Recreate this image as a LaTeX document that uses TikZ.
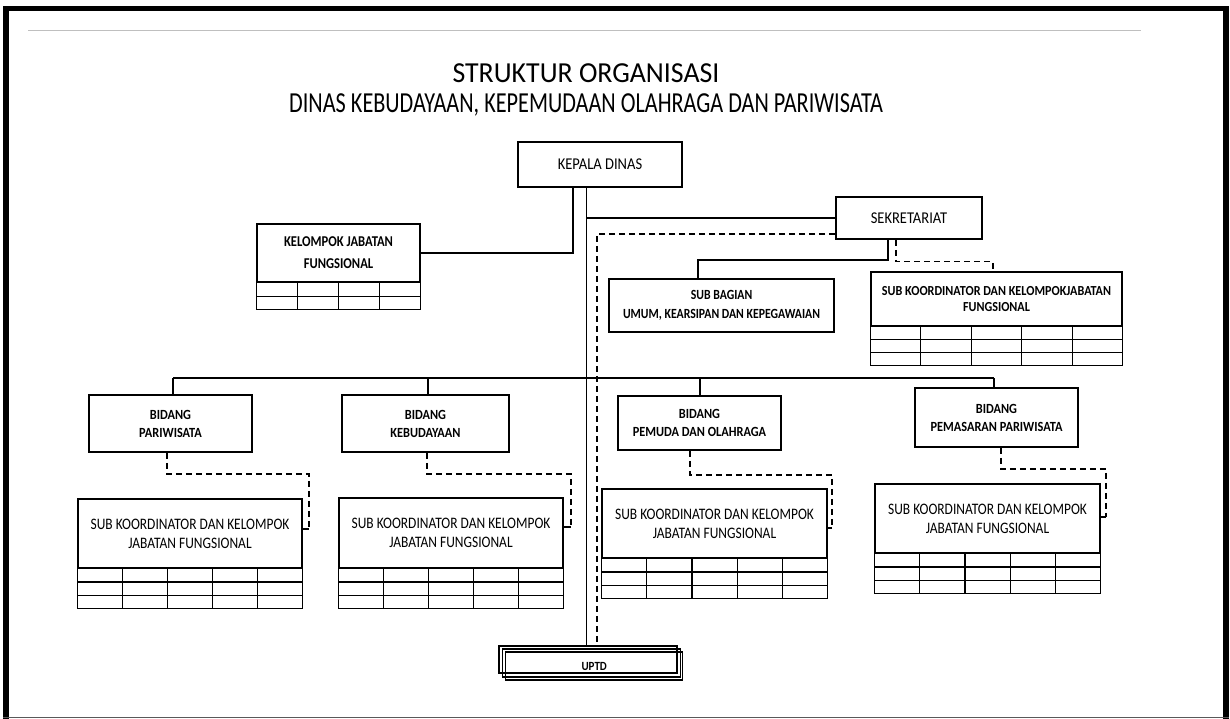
\documentclass[tikz,border=0pt]{standalone}
\usepackage{fontspec}
\setmainfont{Carlito}
\newfontfamily\ttlafont[FakeStretch=0.96]{Carlito}
\newfontfamily\ttlbfont[FakeStretch=0.767]{Carlito}
\newfontfamily\bxfont[FakeStretch=0.88]{Carlito}
\newfontfamily\bxnfont[FakeStretch=0.84]{Carlito}
\usetikzlibrary{calc}
\tikzset{
  bx/.style={draw, line width=1.6pt, inner sep=0pt, align=center, fill=white},
  fr/.style={font=\bxfont\fontsize{16.5}{20}\selectfont},
  fs/.style={font=\bxnfont\fontsize{16}{19}\selectfont},
  fb/.style={font=\bxfont\bfseries\fontsize{14}{18}\selectfont},
  ln/.style={line width=1.6pt},
  dsh/.style={line width=1.5pt, dash pattern=on 6pt off 4pt},
  tb/.style={line width=1.3pt},
  ttl/.style={inner sep=0pt}
}
\newcommand{\gridbelow}[4]{%
  \foreach \r in {1,...,#3}{\draw[tb] ($(#1.south west)+(0,\r*#4)$) -- ($(#1.south east)+(0,\r*#4)$);}
  \foreach \c in {0,...,#2}{\draw[tb] ($(#1.south west)!\c/#2!(#1.south east)$) -- ++(0,#3*#4);}
}
\begin{document}
\begin{tikzpicture}[x=1pt,y=-1pt]
\useasboundingbox (0,0) rectangle (1230,719);
% frame
\fill[black] (3,6) rectangle (1229,11);
\fill[black] (3,6) rectangle (8.5,719);
\fill[black] (1222.5,6) rectangle (1229,719);
\draw[black!65, line width=1pt] (3,717.5) -- (1229,717.5);
\draw[black!25, line width=1pt] (28,31) -- (1141,31);
% title
\node[ttl, font=\ttlafont\fontsize{29}{34}\selectfont] (t1) at (586,73.5) {STRUKTUR ORGANISASI};
\node[ttl, font=\ttlbfont\fontsize{29}{34}\selectfont] (t2) at (586,105) {DINAS KEBUDAYAAN, KEPEMUDAAN OLAHRAGA DAN PARIWISATA};
% boxes
\node[bx, fr, minimum width=164, minimum height=45] (kd) at (600,164.5) {KEPALA DINAS};
\node[bx, fr, minimum width=146, minimum height=42] (sek) at (909,218) {SEKRETARIAT};
\node[bx, font=\bxnfont\bfseries\fontsize{15}{22}\selectfont, minimum width=163, minimum height=58] (kjf) at (338.5,253) {KELOMPOK JABATAN\\FUNGSIONAL};
\node[bx, font=\bxnfont\bfseries\fontsize{14}{19}\selectfont, minimum width=225, minimum height=53] (sb) at (721.5,305.5) {SUB BAGIAN\\UMUM, KEARSIPAN DAN KEPEGAWAIAN};
\node[bx, font=\bxfont\bfseries\fontsize{13.8}{16.5}\selectfont, minimum width=251, minimum height=54] (skt) at (996.5,299) {SUB KOORDINATOR DAN KELOMPOKJABATAN\\FUNGSIONAL};
\node[bx, fb, minimum width=163, minimum height=57] (bp) at (170.5,423.5) {BIDANG\\PARIWISATA};
\node[bx, fb, minimum width=167, minimum height=57] (bk) at (425.5,423.5) {BIDANG\\KEBUDAYAAN};
\node[bx, fb, minimum width=163, minimum height=54] (bpo) at (699.5,423) {BIDANG\\PEMUDA DAN OLAHRAGA};
\node[bx, fb, minimum width=163, minimum height=59] (bpp) at (996.5,417.5) {BIDANG\\PEMASARAN PARIWISATA};
\node[bx, fs, minimum width=224, minimum height=69] (s1) at (190,533.5) {SUB KOORDINATOR DAN KELOMPOK\\JABATAN FUNGSIONAL};
\node[bx, fs, minimum width=224, minimum height=70] (s2) at (451,533) {SUB KOORDINATOR DAN KELOMPOK\\JABATAN FUNGSIONAL};
\node[bx, fs, minimum width=225, minimum height=69] (s3) at (714.5,523.5) {SUB KOORDINATOR DAN KELOMPOK\\JABATAN FUNGSIONAL};
\node[bx, fs, minimum width=225, minimum height=69] (s4) at (987.5,518.5) {SUB KOORDINATOR DAN KELOMPOK\\JABATAN FUNGSIONAL};
% tables
\gridbelow{kjf}{4}{2}{13.5}
\gridbelow{skt}{5}{3}{13}
\gridbelow{s1}{5}{3}{13.3}
\gridbelow{s2}{5}{3}{13.3}
\gridbelow{s3}{5}{3}{13.3}
\gridbelow{s4}{5}{3}{13.3}
% UPTD
\node[draw, line width=1.3pt, inner sep=0pt, minimum width=178, minimum height=27] (uptdA) at (588,659.5) {};
\node[draw, line width=1.3pt, inner sep=0pt, minimum width=177.5, minimum height=28] (uptdB) at (591.5,663) {};
\node[draw, line width=1.3pt, inner sep=0pt, minimum width=177, minimum height=28, font=\bxfont\bfseries\fontsize{12.5}{14}\selectfont] (uptd) at (594.2,666) {UPTD};
% connectors
\coordinate (xt) at (586.5,0);
\coordinate (xk) at (573,0);
\coordinate (xd) at (597,0);
\draw[ln] (kd.south -| xt) -- (uptdA.north -| xt);
\draw[ln] (kd.south -| xk) |- (kjf.east);
\draw[ln] (sek.west -| xt) -- (sek.west);
\draw[dsh] ([yshift=-16pt]sek.west) -| (uptdA.north -| xd);
\coordinate (xs1) at (888,0);
\coordinate (xs2) at (698,0);
\coordinate (ys1) at (0,260);
\draw[ln] (sek.south -| xs1) -- (xs1 |- ys1) -- (xs2 |- ys1) -- (sb.north -| xs2);
\coordinate (xs3) at (896,0);
\coordinate (xs4) at (993,0);
\coordinate (ys2) at (0,261.5);
\draw[dsh] (sek.south -| xs3) -- (xs3 |- ys2) -- (xs4 |- ys2) -- (skt.north -| xs4);
\coordinate (yb) at (0,378);
\coordinate (xb1) at (173,0);
\coordinate (xb2) at (428,0);
\coordinate (xb3) at (700,0);
\coordinate (xb4) at (994,0);
\draw[ln] (xb1 |- yb) -- (xb4 |- yb);
\foreach \n/\x in {bp/xb1, bk/xb2, bpo/xb3, bpp/xb4} \draw[ln] (\x |- yb) -- (\n.north -| \x);
\coordinate (p1) at (167,474); \coordinate (q1) at (309,529);
\coordinate (p2) at (427,474); \coordinate (q2) at (571,527);
\coordinate (p3) at (690,475); \coordinate (q3) at (832,528);
\coordinate (p4) at (1001,469); \coordinate (q4) at (1106,517);
\draw[dsh] (bp.south -| p1) |- (q1 |- p1) -- (q1); \draw[ln] (q1) -- (s1.east |- q1);
\draw[dsh] (bk.south -| p2) |- (q2 |- p2) -- (q2); \draw[ln] (q2) -- (s2.east |- q2);
\draw[dsh] (bpo.south -| p3) |- (q3 |- p3) -- (q3); \draw[ln] (q3) -- (s3.east |- q3);
\draw[dsh] (bpp.south -| p4) |- (q4 |- p4) -- (q4); \draw[ln] (q4) -- (s4.east |- q4);
\end{tikzpicture}
\end{document}
